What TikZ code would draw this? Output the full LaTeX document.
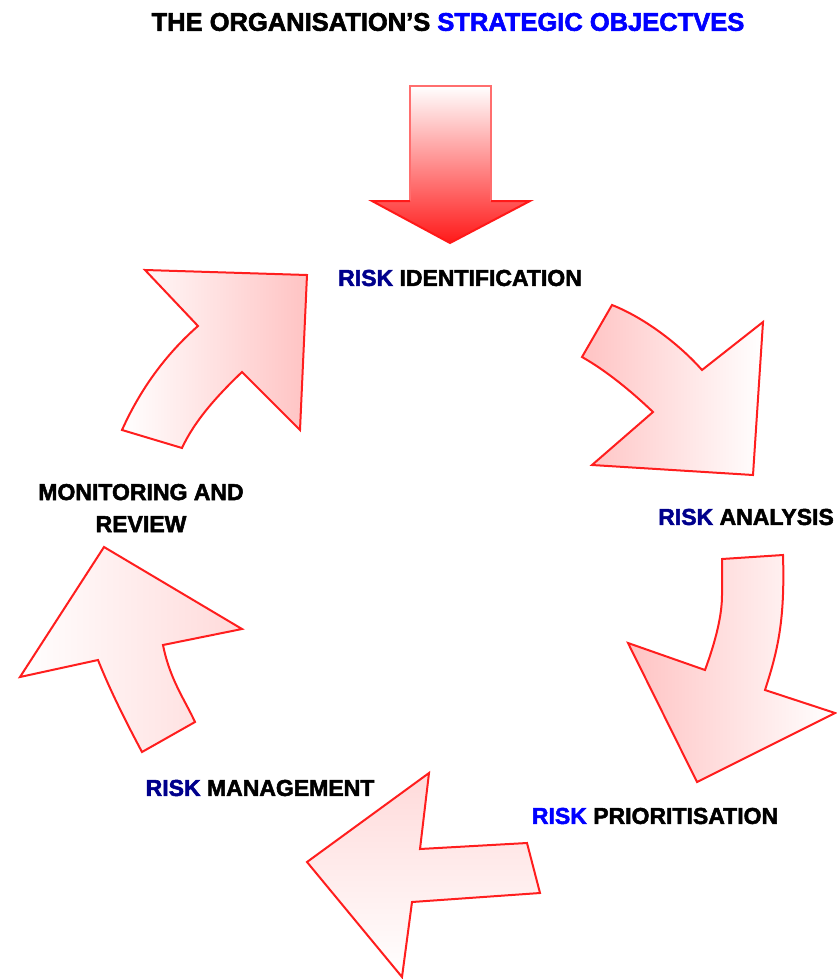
\documentclass[tikz,border=0pt]{standalone}
\usepackage{fontspec}
\setmainfont{Liberation Sans}[FakeBold=2.2]
\definecolor{navyblue}{RGB}{0,0,140}
\definecolor{brightblue}{RGB}{0,0,255}
\definecolor{arrowred}{RGB}{255,30,30}
\definecolor{pinkA}{RGB}{255,195,195}
\definecolor{pinkB}{RGB}{255,218,218}
\definecolor{headred}{RGB}{255,25,25}
\definecolor{midred}{RGB}{255,175,175}
\definecolor{shaftedge}{RGB}{255,110,110}
\tikzset{
  lbl/.style={inner sep=0pt, font=\fontsize{23}{27}\selectfont\bfseries, text=black},
  twoline/.style={lbl, align=center, font=\fontsize{23}{32}\selectfont\bfseries},
  curvearrow/.style={draw=arrowred, line width=2pt, line join=miter},
}
\begin{document}
\begin{tikzpicture}[x=1pt,y=-1pt]
\useasboundingbox (0,0) rectangle (836,979);

% title
\node[lbl, font=\fontsize{25.5}{30}\selectfont\bfseries] (title) at (448,22) {THE ORGANISATION’S \textcolor{brightblue}{STRATEGIC OBJECTVES}};

% top straight arrow
\fill[top color=white, middle color=midred, bottom color=headred]
  (410,86) -- (491,86) -- (491,201) -- (530,201) -- (450,243) -- (372,201) -- (410,201) -- cycle;
\draw[shaftedge, line width=2pt] (410,201) -- (410,86) -- (491,86) -- (491,201);
\draw[headred, line width=2pt] (491,201) -- (530,201) -- (450,243) -- (372,201) -- (410,201);

% upper-left arrow
\draw[curvearrow, left color=white, right color=pinkA]
  (145,270) -- (307,275) -- (300,430) -- (242,372)
  .. controls (218,395) and (195,420) .. (182,448) -- (122,430)
  .. controls (140,390) and (165,355) .. (198,326) -- cycle;

% right arrow
\draw[curvearrow, left color=pinkA, right color=white]
  (612,305) .. controls (645,318) and (680,345) .. (702,370) -- (763,322)
  -- (753,475) -- (592,465) -- (653,412)
  .. controls (630,390) and (605,370) .. (582,357) -- cycle;

% lower-right arrow
\draw[curvearrow, left color=pinkA, right color=white]
  (722,559) -- (783,555) .. controls (785,620) and (778,650) .. (765,690)
  -- (835,713) -- (697,782) -- (628,643) -- (705,670)
  .. controls (716,640) and (722,615) .. (722,595) -- cycle;

% bottom arrow
\draw[curvearrow, top color=pinkB, bottom color=white]
  (429,773) -- (420,849) -- (527,843) -- (540,893) -- (412,902)
  -- (402,977) -- (307,862) -- cycle;

% left arrow
\draw[curvearrow, left color=white, right color=pinkB]
  (104,547) -- (242,629) -- (163,645)
  .. controls (170,680) and (185,700) .. (195,722) -- (142,752)
  .. controls (125,720) and (110,690) .. (98,660) -- (20,677) -- cycle;

% labels
\node[lbl] (ident) at (460,278) {\textcolor{navyblue}{RISK} IDENTIFICATION};
\node[lbl] (analysis) at (746,517) {\textcolor{navyblue}{RISK} ANALYSIS};
\node[lbl] (prior) at (655,816) {\textcolor{brightblue}{RISK} PRIORITISATION};
\node[lbl] (manage) at (260,788) {\textcolor{navyblue}{RISK} MANAGEMENT};
\node[twoline] (monitor) at (141,508) {MONITORING AND\\REVIEW};
\end{tikzpicture}
\end{document}
